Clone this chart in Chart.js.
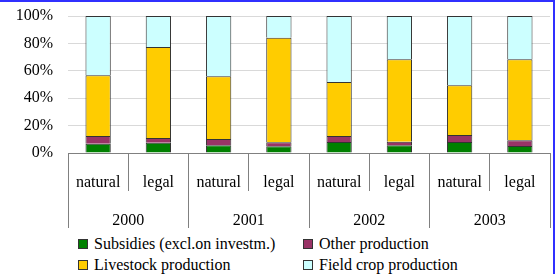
<!DOCTYPE html>
<html>
<head>
<meta charset="utf-8">
<script src="https://cdn.jsdelivr.net/npm/chart.js@4/dist/chart.umd.min.js"></script>
<style>
  body { margin: 0; background: #fff; }
  #wrap { position: relative; width: 556px; height: 274px; overflow: hidden; font-family: 'Liberation Serif', 'Times New Roman', serif; }
  #chart { position: absolute; left: 0; top: 0; }
  #frame { position: absolute; left: -5px; top: 0; width: 558px; height: 300px; border-top: 2px solid #3030ff; border-right: 2px solid #3030ff; pointer-events: none; }
  #legend { position: absolute; left: 78px; top: 233px; display: grid; grid-template-columns: 225px auto; grid-auto-rows: 21px; font-size: 16px; color: #000; }
  .item { display: flex; align-items: center; white-space: nowrap; }
  .box { width: 8px; height: 8px; border: 1px solid #333; margin-right: 6px; }
</style>
</head>
<body>
<div id="wrap">
  <canvas id="chart" width="556" height="232"></canvas>
  <div id="legend"></div>
  <div id="frame"></div>
</div>
<script>
// categorias e anos
const categories = ['natural', 'legal', 'natural', 'legal', 'natural', 'legal', 'natural', 'legal'];
const years = ['2000', '2001', '2002', '2003'];
const yTicks = [0, 20, 40, 60, 80, 100];

// parcelas em % (de baixo para cima)
const subsidies = [6.7, 7.4, 5.7, 4.9, 8.0, 5.6, 8.0, 5.1];
const otherProduction = [5.8, 3.5, 4.5, 2.9, 4.4, 2.7, 5.1, 4.2];
const livestockProduction = [44.2, 66.5, 45.8, 76.4, 39.4, 60.1, 36.3, 59.1];
const fieldCropProduction = [43.3, 22.6, 44.0, 15.8, 48.2, 31.6, 50.6, 31.6];

const seriesNames = ['Subsidies (excl.on investm.)', 'Other production', 'Livestock production', 'Field crop production'];
const seriesColors = ['#008000', '#993366', '#ffcc00', '#ccffff'];
const seriesData = [subsidies, otherProduction, livestockProduction, fieldCropProduction];

const fontSerif = { family: "'Liberation Serif', 'Times New Roman', serif", size: 16 };

const datasets = seriesData.map((values, i) => ({
    label: seriesNames[i],
    data: values,
    backgroundColor: seriesColors[i],
    borderColor: '#333',
    borderWidth: 1,
    barPercentage: 0.42,
    categoryPercentage: 1,
    xAxisID: 'x'
}));

const ctx = document.getElementById('chart').getContext('2d');
const chart = new Chart(ctx, {
    type: 'bar',
    data: { labels: categories, datasets: datasets },
    options: {
        responsive: false,
        animation: false,
        layout: { padding: { top: 16, right: 6, bottom: 4, left: 0 } },
        plugins: { legend: { display: false }, tooltip: { enabled: false } },
        scales: {
            x: {
                type: 'category',
                stacked: true,
                position: 'bottom',
                offset: true,
                grid: { offset: true, drawOnChartArea: false, drawTicks: true, tickLength: 38, color: '#808080' },
                border: { display: true, color: '#808080' },
                ticks: { color: '#000', font: fontSerif, padding: -18, maxRotation: 0, autoSkip: false },
                afterFit: (scale) => { scale.height = 38; }
            },
            xYear: {
                type: 'category',
                labels: years,
                position: 'bottom',
                offset: true,
                grid: { offset: true, drawOnChartArea: false, drawTicks: true, tickLength: 37, color: '#808080' },
                border: { display: false },
                ticks: { color: '#000', font: fontSerif, padding: -17, maxRotation: 0, autoSkip: false },
                afterFit: (scale) => { scale.height = 37; }
            },
            y: {
                stacked: true,
                min: 0,
                max: 100,
                afterBuildTicks: (scale) => { scale.ticks = yTicks.map(v => ({ value: v })); },
                // marcas invisíveis só para afastar os rótulos do eixo
                grid: { color: '#d9d9d9', drawTicks: true, tickLength: 15, tickColor: 'rgba(0,0,0,0)' },
                border: { display: false },
                ticks: { color: '#000', font: fontSerif, padding: 0, callback: (v) => v + '%' },
                afterFit: (scale) => { scale.width = 68; }
            }
        }
    }
});

// legenda em HTML, montada a partir dos datasets
const legendEl = document.getElementById('legend');
chart.data.datasets.forEach(ds => {
    const item = document.createElement('div');
    item.className = 'item';
    const box = document.createElement('span');
    box.className = 'box';
    box.style.background = ds.backgroundColor;
    const txt = document.createElement('span');
    txt.textContent = ds.label;
    item.appendChild(box);
    item.appendChild(txt);
    legendEl.appendChild(item);
});
</script>
</body>
</html>
